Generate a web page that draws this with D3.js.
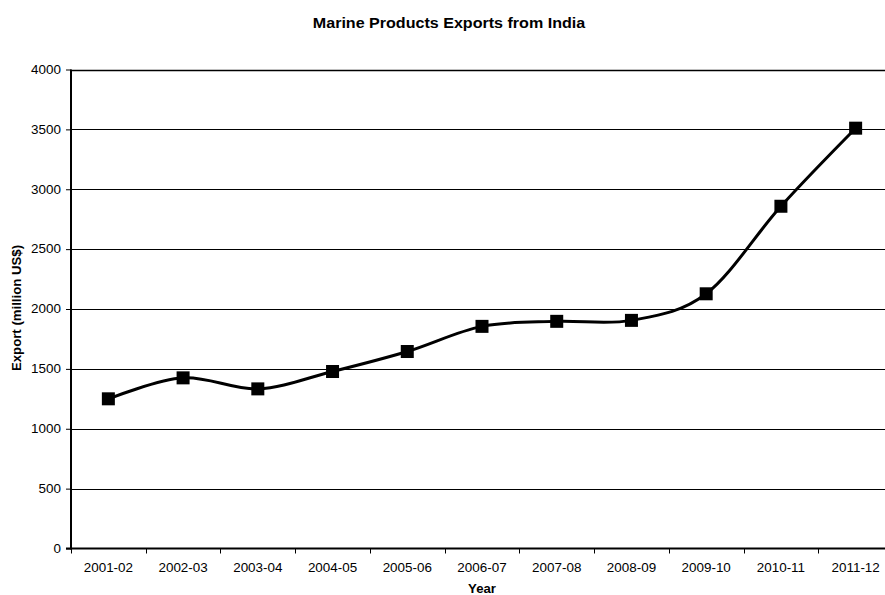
<!DOCTYPE html>
<html><head><meta charset="utf-8">
<script src="https://cdn.jsdelivr.net/npm/d3@7/dist/d3.min.js"></script>
<style>body{margin:0;background:#fff}svg{display:block;font-family:"Liberation Sans",Arial,sans-serif}</style>
</head><body>
<svg id="c" width="885" height="595"></svg>
<script>
const years = ["2001-02","2002-03","2003-04","2004-05","2005-06","2006-07","2007-08","2008-09","2009-10","2010-11","2011-12"];
const exportsUSD = [1250,1425,1333,1478,1645,1855,1897,1905,2127,2858,3510];
const yTicks = [0,500,1000,1500,2000,2500,3000,3500,4000];

const svg = d3.select("#c");
const L = 71, R = 893, T = 69.5, B = 548.5;
const SX = 1.12;
const x = d3.scaleBand().domain(years).range([L, R]);
const y = d3.scaleLinear().domain([0, 4000]).range([B, T]);

// gridlines
svg.append("g").selectAll("line").data(yTicks.slice(1)).join("line")
  .attr("x1", L).attr("x2", R)
  .attr("y1", d => Math.round(y(d)) + 0.5).attr("y2", d => Math.round(y(d)) + 0.5)
  .attr("stroke", "#000").attr("stroke-width", d => d === 4000 ? 1.5 : 1);

// y axis
const ya = svg.append("g").attr("transform", `translate(${L},0)`)
  .call(d3.axisLeft(y).tickValues(yTicks).tickSize(5).tickPadding(5).tickFormat(d3.format("d")));
ya.select(".domain").remove();
ya.selectAll(".tick line").attr("stroke", "#000");
ya.selectAll("text").attr("font-size", 12).attr("fill", "#000")
  .attr("font-family", "Liberation Sans, Arial, sans-serif")
  .attr("x", 0).attr("transform", `translate(-10,0) scale(${SX},1)`);
ya.append("line").attr("x1", 0).attr("x2", 0).attr("y1", T).attr("y2", B + 1).attr("stroke", "#000").attr("stroke-width", 2);

// x axis
const xa = svg.append("g").attr("transform", `translate(0,${B})`);
xa.append("line").attr("x1", L - 5).attr("x2", R).attr("y1", 0).attr("y2", 0).attr("stroke", "#000").attr("stroke-width", 2);
const bounds = years.map(d => x(d)).concat([R]);
xa.selectAll("line.tk").data(bounds).join("line").attr("class", "tk")
  .attr("x1", d => Math.round(d) + 0.5).attr("x2", d => Math.round(d) + 0.5)
  .attr("y1", 0).attr("y2", 5).attr("stroke", "#000");
xa.selectAll("text").data(years).join("text")
  .attr("transform", d => `translate(${x(d) + x.bandwidth() / 2},23.5) scale(${SX},1)`)
  .attr("text-anchor", "middle").attr("font-size", 12).attr("fill", "#000")
  .text(d => d);

// line
const line = d3.line()
  .x((d, i) => x(years[i]) + x.bandwidth() / 2)
  .y(d => y(d))
  .curve(d3.curveCardinal.tension(0));
svg.append("path").datum(exportsUSD).attr("d", line)
  .attr("fill", "none").attr("stroke", "#000").attr("stroke-width", 3);

// markers
const ms = 13;
svg.append("g").selectAll("rect").data(exportsUSD).join("rect")
  .attr("x", (d, i) => x(years[i]) + x.bandwidth() / 2 - ms / 2)
  .attr("y", d => y(d) - ms / 2)
  .attr("width", ms).attr("height", ms).attr("fill", "#000");

// titles
svg.append("text").attr("transform", "translate(449,27.5) scale(1.11,1)").attr("text-anchor", "middle")
  .attr("font-size", 14.5).attr("font-weight", "bold").text("Marine Products Exports from India");
svg.append("text").attr("transform", "translate(482,592.5) scale(1.1,1)").attr("text-anchor", "middle")
  .attr("font-size", 12).attr("font-weight", "bold").text("Year");
svg.append("text").attr("transform", "translate(21,308) rotate(-90) scale(1.1,1)").attr("text-anchor", "middle")
  .attr("font-size", 12).attr("font-weight", "bold").text("Export (million US$)");
</script>
</body></html>
